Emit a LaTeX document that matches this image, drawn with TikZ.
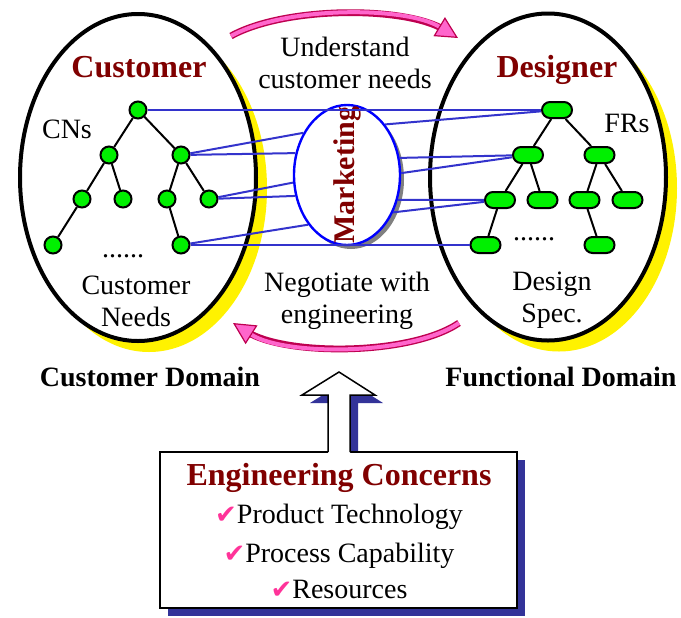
\documentclass[tikz,border=0pt]{standalone}
\usepackage{fontspec}
\setmainfont{Liberation Serif}
\newfontfamily\symfont{DejaVu Sans}
\usetikzlibrary{shapes.geometric,shadows,arrows.meta}

\definecolor{titlered}{RGB}{128,0,0}
\definecolor{linkblue}{RGB}{51,51,204}
\definecolor{shadeblue}{RGB}{51,51,153}
\definecolor{bandpink}{RGB}{255,102,204}
\definecolor{bandedge}{RGB}{190,0,80}
\definecolor{needgreen}{RGB}{0,240,0}
\definecolor{checkpink}{RGB}{255,51,153}

\newcommand\checkmk{{\symfont\fontsize{13}{14}\selectfont\color{checkpink}✔}}

\begin{document}
\begin{tikzpicture}
[x=0.5pt,y=-0.5pt,%
  domainbox/.style={ellipse,draw,line width=2pt,fill=white,inner sep=0pt,
    minimum width=118pt,minimum height=163.5pt,
    general shadow={fill=yellow,shadow xshift=5.5pt,shadow yshift=-5.5pt}},%
  mktbox/.style={ellipse,draw=blue,line width=1.2pt,fill=white,inner sep=0pt,
    minimum width=53pt,minimum height=70pt,
    general shadow={fill=gray,shadow xshift=2pt,shadow yshift=-2pt}},%
  cn/.style={circle,draw,line width=1pt,fill=needgreen,minimum size=8.5pt,inner sep=0pt},%
  fr/.style={rectangle,rounded corners=4pt,draw,line width=1pt,fill=needgreen,
    minimum width=15pt,minimum height=8pt,inner sep=0pt},%
  branch/.style={line width=1pt},%
  cnlink/.style={linkblue,line width=1pt},%
  roletitle/.style={font=\fontsize{16}{19}\selectfont\bfseries,text=titlered},%
  txt/.style={font=\fontsize{14}{16}\selectfont,align=center},%
  domname/.style={font=\fontsize{14}{16}\selectfont\bfseries,anchor=base},%
  concbox/.style={rectangle,draw,line width=0.75pt,fill=white,
    minimum width=178.5pt,minimum height=78pt,
    general shadow={fill=shadeblue,shadow xshift=4pt,shadow yshift=-4pt}},%
  bandout/.style={bandedge,line width=3.4pt},%
  bandin/.style={bandpink,line width=2pt,
    -{Triangle[length=11pt,width=11pt,line width=0.6pt,fill=bandpink,color=bandedge]}}]
\useasboundingbox (0,0) rectangle (681,617);

% the two domains
\node[domainbox] (cust) at (138,177.5) {};
\node[domainbox] (func) at (548,177) {};
\node[mktbox] (mkt) at (347,175) {};
\node[rotate=90,roletitle,font=\fontsize{15}{18}\selectfont\bfseries] at (mkt) {Marketing};

\node[roletitle,anchor=base] (custt) at (139,77) {Customer};
\node[roletitle,anchor=base] (desgt) at (557,77) {Designer};

% customer needs
\node[cn] (c0) at (138,110) {};
\node[cn] (c1) at (109,155) {};
\node[cn] (c2) at (181,155) {};
\node[cn] (c3) at (82,199) {};
\node[cn] (c4) at (123,199) {};
\node[cn] (c5) at (167,199) {};
\node[cn] (c6) at (209,199) {};
\node[cn] (c7) at (53,245) {};
\node[cn] (c8) at (181,245) {};

% functional requirements
\node[fr] (f0) at (557,110) {};
\node[fr] (f1) at (528,155) {};
\node[fr] (f2) at (599.5,155) {};
\node[fr] (f3) at (500,200) {};
\node[fr] (f4) at (542.5,200) {};
\node[fr] (f5) at (584.5,200) {};
\node[fr] (f6) at (627.5,200) {};
\node[fr] (f7) at (485.5,245) {};
\node[fr] (f8) at (599.5,245) {};

\draw[branch] (c0) -- (c1); \draw[branch] (c0) -- (c2);
\draw[branch] (c1) -- (c3); \draw[branch] (c1) -- (c4);
\draw[branch] (c2) -- (c5); \draw[branch] (c2) -- (c6);
\draw[branch] (c3) -- (c7); \draw[branch] (c5) -- (c8);

\draw[branch] (f0) -- (f1); \draw[branch] (f0) -- (f2);
\draw[branch] (f1) -- (f3); \draw[branch] (f1) -- (f4);
\draw[branch] (f2) -- (f5); \draw[branch] (f2) -- (f6);
\draw[branch] (f3) -- (f7); \draw[branch] (f5) -- (f8);

% mapping through marketing
\draw[cnlink] (c0) -- (f0);
\draw[cnlink] (c2) -- (mkt.136);
\draw[cnlink] (c2) -- (mkt.157);
\draw[cnlink] (c6) -- (mkt.188);
\draw[cnlink] (c6) -- (mkt.202);
\draw[cnlink] (c8) -- (mkt.232);
\draw[cnlink] (c8) -- (f7);
\draw[cnlink] (f0) -- (mkt.53);
\draw[cnlink] (f1) -- (mkt.18);
\draw[cnlink] (f1) -- (mkt.2);
\draw[cnlink] (f3) -- (mkt.334);
\draw[cnlink] (f3) -- (mkt.321);

\node[txt,anchor=base] (cns) at (67,138) {CNs};
\node[txt,anchor=base] (frs) at (627,132) {FRs};
\node[txt,anchor=base] (cdots) at (123,257) {......};
\node[txt,anchor=base] (fdots) at (534,240) {......};
\node[txt] (cneeds) at (136,301) {Customer\\Needs};
\node[txt] (dspec) at (552,300) {Design\\Spec.};
\node[txt] (undst) at (345,63) {Understand\\customer needs};
\node[txt] (negot) at (347,301) {Negotiate with\\engineering};

\node[domname] (cdom) at (150,386) {Customer Domain};
\node[domname] (fdom) at (561,386) {Functional Domain};

% the two curved arrows
\coordinate (u0) at (231,36);
\coordinate (u1) at (458,38);
\coordinate (n0) at (459,323);
\coordinate (n1) at (233,323);
\draw[bandout,shorten >=8pt] (u0) .. controls (285,6) and (405,6) .. (u1);
\draw[bandin] (u0) .. controls (285,6) and (405,6) .. (u1);
\draw[bandout,shorten >=8pt] (n0) .. controls (410,356) and (285,356) .. (n1);
\draw[bandin] (n0) .. controls (410,356) and (285,356) .. (n1);

% engineering concerns
\fill[shadeblue] (336,461) -- (336,403) -- (310,403) -- (347,380) -- (383,403)
  -- (358,403) -- (358,461) -- cycle;
\node[concbox] (conc) at (338.5,530) {};
\fill[white] (328,453) -- (328,395) -- (302,395) -- (339,372) -- (375,395)
  -- (350,395) -- (350,453) -- cycle;
\draw[line width=0.75pt] (328,452) -- (328,395) -- (302,395) -- (339,372)
  -- (375,395) -- (350,395) -- (350,452);

\node[roletitle,anchor=base] (conct) at (339,485) {Engineering Concerns};
\node[txt,anchor=base] (prod) at (339,523) {\checkmk Product Technology};
\node[txt,anchor=base] (proc) at (339,562) {\checkmk Process Capability};
\node[txt,anchor=base] (res) at (339,598) {\checkmk Resources};
\end{tikzpicture}
\end{document}
